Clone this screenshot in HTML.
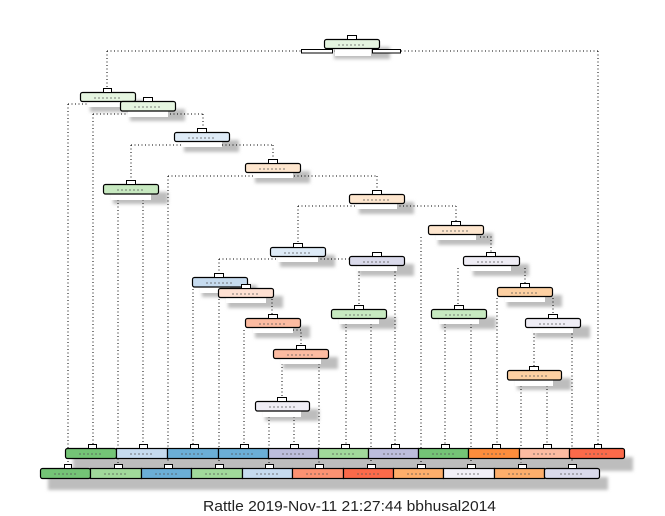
<!DOCTYPE html>
<html><head><meta charset="utf-8"><style>html,body{margin:0;padding:0;background:#fff}svg{display:block}</style></head>
<body>
<svg width="665" height="516" viewBox="0 0 665 516" xmlns="http://www.w3.org/2000/svg" font-family="Liberation Sans, sans-serif">
<defs><filter id="b" x="-20%" y="-50%" width="140%" height="200%"><feGaussianBlur stdDeviation="1.5"/></filter></defs>
<!-- shadows -->
<g fill="#bdbdbd" filter="url(#b)">
<rect x="334" y="47" width="56" height="12"/>
<rect x="90" y="100" width="55" height="12"/><rect x="130" y="109" width="55" height="12"/>
<rect x="184" y="140" width="55" height="12"/><rect x="255" y="171" width="55" height="12"/>
<rect x="113" y="192" width="55" height="12"/><rect x="359" y="202" width="55" height="12"/>
<rect x="438" y="233" width="55" height="12"/><rect x="280" y="255" width="55" height="12"/>
<rect x="359" y="264" width="55" height="12"/><rect x="473" y="264" width="56" height="12"/>
<rect x="202" y="285" width="55" height="12"/><rect x="228" y="296" width="55" height="12"/>
<rect x="507" y="295" width="55" height="12"/><rect x="341" y="317" width="55" height="12"/>
<rect x="441" y="317" width="55" height="12"/><rect x="255" y="326" width="55" height="12"/>
<rect x="535" y="326" width="55" height="12"/><rect x="283" y="357" width="55" height="12"/>
<rect x="517" y="378" width="54" height="12"/><rect x="265" y="409" width="54" height="12"/>
<rect x="73" y="457" width="560" height="14"/>
<rect x="48" y="477" width="560" height="13"/>
</g>
<!-- connectors -->
<g stroke="#000" stroke-width="1" stroke-dasharray="1,2.5" fill="none">
<path d="M107 51H598M107 51V88M598 51V444"/>
<path d="M68 104H148M68 104V463M148 104V97"/>
<path d="M93 114H203M93 114V444M203 114V128"/>
<path d="M131 145H273M131 145V180M273 145V159"/>
<path d="M118 196V463M143 196V444"/>
<path d="M168 176H377M168 176V463M377 176V190"/>
<path d="M298 206H456M298 206V243M456 206V221"/>
<path d="M219 259H376M219 259V273M376 259V252"/>
<path d="M359 268V305M395 268V444"/>
<path d="M346 320V444M371 320V463"/>
<path d="M193 289V444M219 299V463M246 289V284"/>
<path d="M272 299V314"/>
<path d="M244 330V444M272 330H301V345"/>
<path d="M282 360V397M319 360V463"/>
<path d="M269 413V463M294 413V444"/>
<path d="M421 237V463M480 237H491V252"/>
<path d="M458 268V305M525 268V283"/>
<path d="M445 320V444M471 320V463"/>
<path d="M497 298V444M553 298V314"/>
<path d="M534 330V366M572 330V463"/>
<path d="M521 382V463M547 382V444"/>
</g>
<!-- label boxes (white) -->
<g fill="#fff">
<rect x="335" y="48" width="36" height="8"/>
<rect x="88" y="101" width="40" height="6"/><rect x="128" y="111" width="40" height="6"/>
<rect x="182" y="141" width="40" height="6"/><rect x="253" y="172" width="40" height="6"/>
<rect x="111" y="194" width="40" height="6"/><rect x="357" y="203" width="40" height="6"/>
<rect x="436" y="234" width="40" height="6"/><rect x="278" y="256" width="40" height="6"/>
<rect x="357" y="265" width="40" height="6"/><rect x="471" y="265" width="40" height="6"/>
<rect x="200" y="287" width="30" height="6"/><rect x="226" y="297" width="40" height="6"/>
<rect x="505" y="296" width="40" height="6"/><rect x="339" y="318" width="40" height="6"/>
<rect x="439" y="318" width="40" height="6"/><rect x="253" y="327" width="40" height="6"/>
<rect x="533" y="327" width="40" height="6"/><rect x="281" y="358" width="40" height="6"/>
<rect x="515" y="380" width="38" height="6"/><rect x="263" y="411" width="38" height="6"/>
</g>
<g stroke="#000" stroke-width="1" fill="#fff">
<rect x="301.5" y="49.5" width="31" height="3.5"/><rect x="372.5" y="49.5" width="28" height="3.5"/>
</g>
<!-- nodes -->
<g stroke="#000" stroke-width="1.2">
<rect x="324.5" y="39.5" width="55" height="9" rx="2" fill="#e5f5e0"/>
<rect x="80.5" y="92.5" width="55" height="9" rx="2" fill="#e5f5e0"/>
<rect x="120.5" y="101.5" width="55" height="9.5" rx="2" fill="#e5f5e0"/>
<rect x="174.5" y="132.5" width="55" height="9" rx="2" fill="#deebf7"/>
<rect x="245.5" y="163.5" width="55" height="9" rx="2" fill="#fee6ce"/>
<rect x="103.5" y="184.5" width="55" height="9.5" rx="2" fill="#c7e9c0"/>
<rect x="349.5" y="194.5" width="55" height="9" rx="2" fill="#fee6ce"/>
<rect x="428.5" y="225.5" width="55" height="9" rx="2" fill="#fee6ce"/>
<rect x="270.5" y="247.5" width="55" height="9" rx="2" fill="#deebf7"/>
<rect x="349.5" y="256.5" width="55" height="9" rx="2" fill="#dadaeb"/>
<rect x="463.5" y="256.5" width="56" height="9" rx="2" fill="#efedf5"/>
<rect x="192.5" y="277.5" width="55" height="9.5" rx="2" fill="#c6dbef"/>
<rect x="218.5" y="288.5" width="55" height="9" rx="2" fill="#fee0d2"/>
<rect x="497.5" y="287.5" width="55" height="9" rx="2" fill="#fdd0a2"/>
<rect x="331.5" y="309.5" width="55" height="9" rx="2" fill="#c7e9c0"/>
<rect x="431.5" y="309.5" width="55" height="9" rx="2" fill="#c7e9c0"/>
<rect x="245.5" y="318.5" width="55" height="9" rx="2" fill="#fcbba1"/>
<rect x="525.5" y="318.5" width="55" height="9" rx="2" fill="#efedf5"/>
<rect x="273.5" y="349.5" width="55" height="9" rx="2" fill="#fcbba1"/>
<rect x="507.5" y="370.5" width="54" height="9.5" rx="2" fill="#fdd0a2"/>
<rect x="255.5" y="401.5" width="54" height="9.5" rx="2" fill="#efedf5"/>
<!-- leaves top -->
<rect x="65.5" y="448.5" width="51" height="10" rx="2" fill="#74c476"/>
<rect x="116.5" y="448.5" width="51" height="10" fill="#c6dbef"/>
<rect x="167.5" y="448.5" width="51" height="10" fill="#6baed6"/>
<rect x="218.5" y="448.5" width="50" height="10" fill="#6baed6"/>
<rect x="268.5" y="448.5" width="50" height="10" fill="#bcbddc"/>
<rect x="318.5" y="448.5" width="50" height="10" fill="#a1d99b"/>
<rect x="368.5" y="448.5" width="50" height="10" fill="#bcbddc"/>
<rect x="418.5" y="448.5" width="50" height="10" fill="#74c476"/>
<rect x="468.5" y="448.5" width="51" height="10" fill="#fd8d3c"/>
<rect x="519.5" y="448.5" width="50" height="10" fill="#fcbba1"/>
<rect x="569.5" y="448.5" width="55" height="10" rx="2" fill="#fb6a4a"/>
<!-- leaves bottom -->
<rect x="40.5" y="468.5" width="50" height="10" rx="2" fill="#74c476"/>
<rect x="90.5" y="468.5" width="51" height="10" fill="#a1d99b"/>
<rect x="141.5" y="468.5" width="50" height="10" fill="#6baed6"/>
<rect x="191.5" y="468.5" width="51" height="10" fill="#a1d99b"/>
<rect x="242.5" y="468.5" width="50" height="10" fill="#c6dbef"/>
<rect x="292.5" y="468.5" width="51" height="10" fill="#fc9272"/>
<rect x="343.5" y="468.5" width="50" height="10" fill="#fb6a4a"/>
<rect x="393.5" y="468.5" width="50" height="10" fill="#fdae6b"/>
<rect x="443.5" y="468.5" width="51" height="10" fill="#f2f0f7"/>
<rect x="494.5" y="468.5" width="50" height="10" fill="#fdae6b"/>
<rect x="544.5" y="468.5" width="55" height="10" rx="2" fill="#dadaeb"/>
</g>
<!-- hats -->
<g stroke="#000" stroke-width="1" fill="#fff">
<rect x="347.5" y="35.5" width="9" height="4"/>
<rect x="103.5" y="88.5" width="8" height="4"/><rect x="143.5" y="97.5" width="9" height="4"/>
<rect x="197.5" y="128.5" width="9" height="4"/><rect x="268.5" y="159.5" width="9" height="4"/>
<rect x="126.5" y="180.5" width="9" height="4"/><rect x="372.5" y="190.5" width="9" height="4"/>
<rect x="451.5" y="221.5" width="9" height="4"/><rect x="293.5" y="243.5" width="9" height="4"/>
<rect x="372.5" y="252.5" width="9" height="4"/><rect x="486.5" y="252.5" width="9" height="4"/>
<rect x="214.5" y="273.5" width="9" height="4"/><rect x="241.5" y="284.5" width="9" height="4"/>
<rect x="520.5" y="283.5" width="9" height="4"/><rect x="354.5" y="305.5" width="9" height="4"/>
<rect x="454.5" y="305.5" width="9" height="4"/><rect x="268.5" y="314.5" width="9" height="4"/>
<rect x="548.5" y="314.5" width="9" height="4"/><rect x="296.5" y="345.5" width="9" height="4"/>
<rect x="529.5" y="366.5" width="9" height="4"/><rect x="277.5" y="397.5" width="9" height="4"/>
<rect x="88.5" y="444.5" width="8" height="4"/><rect x="139.5" y="444.5" width="8" height="4"/>
<rect x="190.5" y="444.5" width="8" height="4"/><rect x="240.5" y="444.5" width="8" height="4"/>
<rect x="290.5" y="444.5" width="8" height="4"/><rect x="341.5" y="444.5" width="8" height="4"/>
<rect x="391.5" y="444.5" width="8" height="4"/><rect x="441.5" y="444.5" width="8" height="4"/>
<rect x="492.5" y="444.5" width="8" height="4"/><rect x="543.5" y="444.5" width="8" height="4"/>
<rect x="594.5" y="444.5" width="7" height="4"/>
<rect x="64.5" y="464.5" width="7" height="4"/><rect x="114.5" y="464.5" width="8" height="4"/>
<rect x="164.5" y="464.5" width="8" height="4"/><rect x="215.5" y="464.5" width="8" height="4"/>
<rect x="265.5" y="464.5" width="8" height="4"/><rect x="315.5" y="464.5" width="8" height="4"/>
<rect x="367.5" y="464.5" width="8" height="4"/><rect x="417.5" y="464.5" width="8" height="4"/>
<rect x="467.5" y="464.5" width="8" height="4"/><rect x="518.5" y="464.5" width="8" height="4"/>
<rect x="568.5" y="464.5" width="8" height="4"/>
</g>
<!-- tiny dashes inside boxes -->
<g stroke="#555" stroke-width="0.8" stroke-dasharray="2,2">
<path d="M338 45H366M94 98H122M134 107H162M188 138H216M259 169H287M117 190H145M363 200H391M442 231H470M284 253H312M363 262H391M477 262H505M206 283H234M232 294H260M511 293H539M345 315H373M445 315H473M259 324H287M539 324H567M287 355H315M521 376H549M269 407H297"/>
<path d="M79 454H103M130 454H154M181 454H205M231 454H255M282 454H306M332 454H356M383 454H407M432 454H456M483 454H507M533 454H557M585 454H609"/>
<path d="M54 474H78M104 474H128M155 474H179M205 474H229M256 474H280M306 474H330M357 474H381M407 474H431M457 474H481M508 474H532M560 474H584"/>
</g>
<text x="203" y="511" font-size="15" fill="#222" textLength="293" lengthAdjust="spacingAndGlyphs">Rattle 2019-Nov-11 21:27:44 bbhusal2014</text>
</svg>
</body></html>
